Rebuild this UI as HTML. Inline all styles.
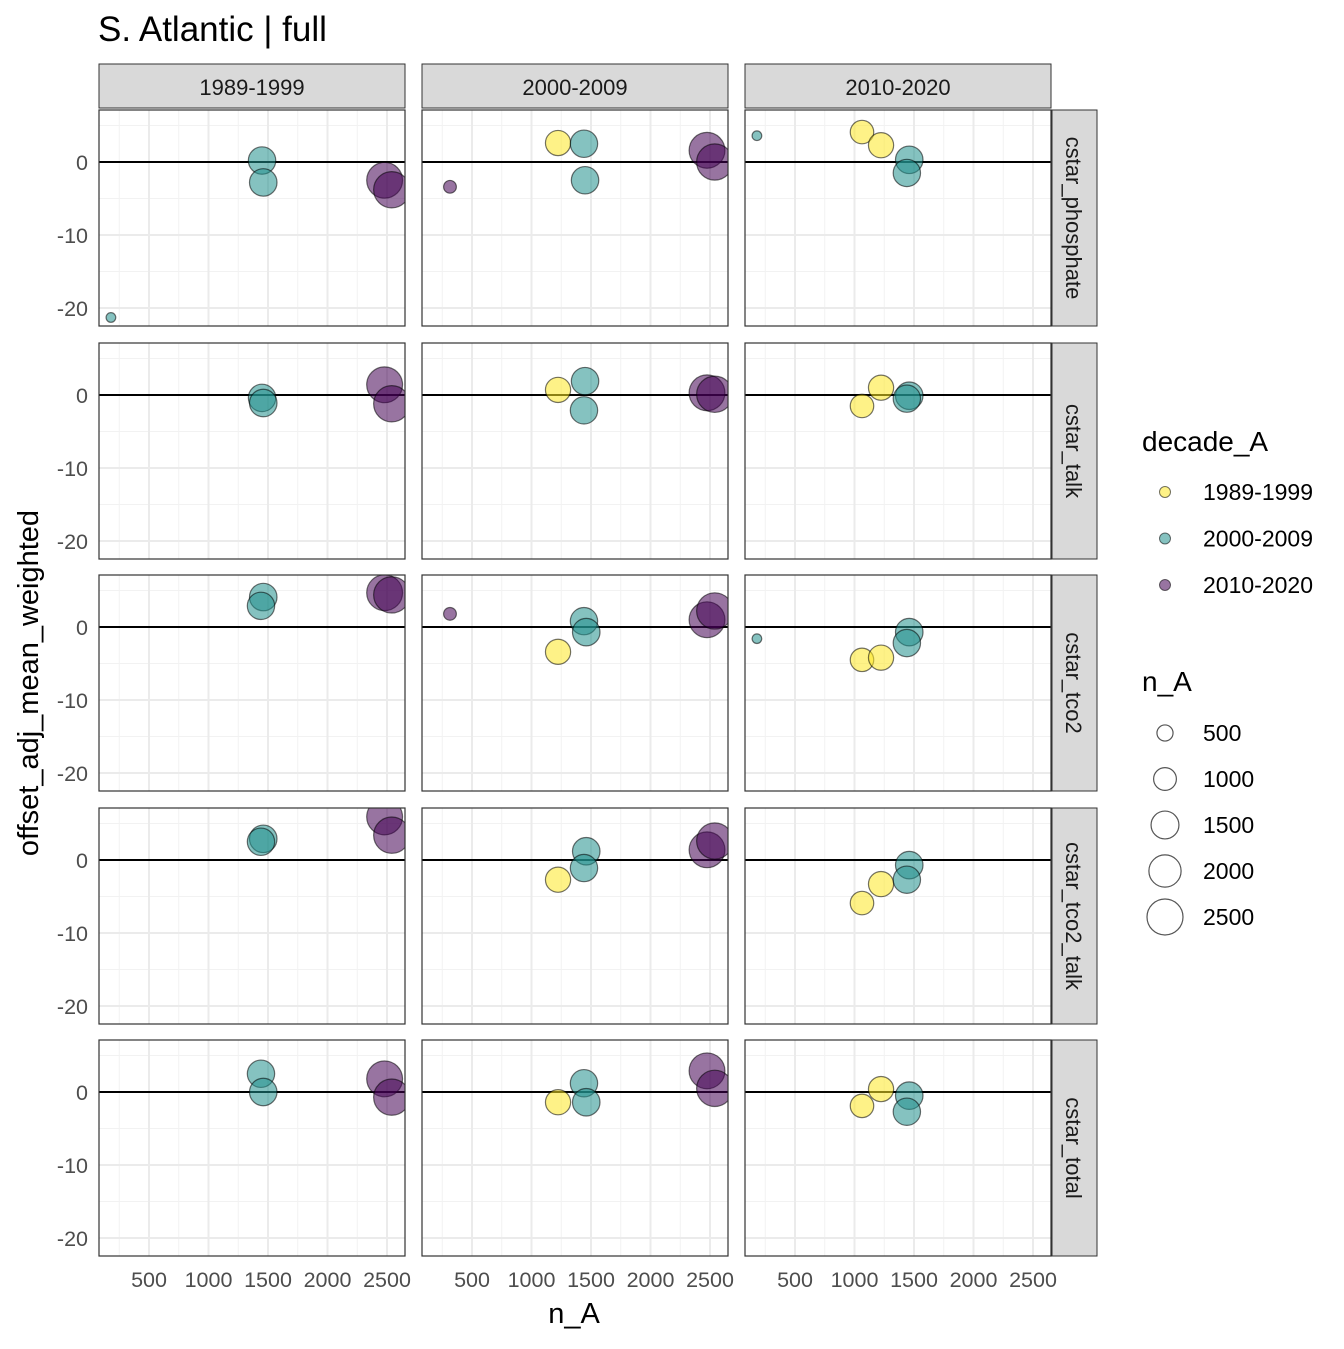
<!DOCTYPE html>
<html><head><meta charset="utf-8"><style>
body{margin:0;background:#fff;font-family:"Liberation Sans",sans-serif;}
svg text{font-family:"Liberation Sans",sans-serif;}
</style></head><body>
<svg id="chart" width="1344" height="1344" xmlns="http://www.w3.org/2000/svg">
<defs><clipPath id="pclip"><rect x="0" y="0" width="306" height="216"/></clipPath></defs>
<text x="98" y="41" font-size="35" fill="#000">S. Atlantic | full</text>
<text x="574" y="1323" font-size="29" text-anchor="middle">n_A</text>
<text transform="translate(38,683) rotate(-90)" font-size="29" text-anchor="middle">offset_adj_mean_weighted</text>
<g id="panels"></g>
<g id="legend"></g>
</svg>
<script>
const decades=["1989-1999","2000-2009","2010-2020"];
const params=["cstar_phosphate","cstar_talk","cstar_tco2","cstar_tco2_talk","cstar_total"];
const colors={"1989-1999":"#FDE725","2000-2009":"#21908C","2010-2020":"#440154"};
const xTicks=[500,1000,1500,2000,2500];
const yTicks=[0,-10,-20];
const sizeLegend=[500,1000,1500,2000,2500];
const pParam=[0,0,0,0,0, 0,0,0,0,0,0, 0,0,0,0,0,
 1,1,1,1, 1,1,1,1,1, 1,1,1,1,
 2,2,2,2, 2,2,2,2,2,2, 2,2,2,2,2,
 3,3,3,3, 3,3,3,3,3, 3,3,3,3,
 4,4,4,4, 4,4,4,4,4, 4,4,4,4];
const pPanel=[0,0,0,0,0, 1,1,1,1,1,1, 2,2,2,2,2,
 0,0,0,0, 1,1,1,1,1, 2,2,2,2,
 0,0,0,0, 1,1,1,1,1,1, 2,2,2,2,2,
 0,0,0,0, 1,1,1,1,1, 2,2,2,2,
 0,0,0,0, 1,1,1,1,1, 2,2,2,2];
const pDecade=[1,1,2,2,1, 0,1,1,2,2,2, 1,0,0,1,1,
 1,1,2,2, 0,1,1,2,2, 0,0,1,1,
 1,1,2,2, 2,0,1,1,2,2, 1,0,0,1,1,
 1,1,2,2, 0,1,1,2,2, 0,0,1,1,
 1,1,2,2, 0,1,1,2,2, 0,0,1,1];
const pN=[1450,1460,2480,2540,180, 1223,1441,1450,2475,2540,315, 180,1063,1223,1460,1440,
 1450,1460,2480,2540, 1223,1450,1441,2475,2540, 1063,1223,1460,1440,
 1460,1441,2480,2540, 315,1223,1441,1460,2475,2540, 180,1063,1223,1460,1440,
 1460,1441,2480,2540, 1223,1460,1441,2475,2540, 1063,1223,1460,1440,
 1441,1460,2480,2540, 1223,1441,1460,2475,2540, 1063,1223,1460,1440];
const pY=[0.2,-2.8,-2.5,-3.8,-21.3, 2.6,2.5,-2.5,1.6,0,-3.4, 3.6,4.1,2.3,0.3,-1.5,
 -0.4,-1.1,1.4,-1.2, 0.7,1.9,-2.1,0.3,0.1, -1.5,1.0,-0.1,-0.5,
 4.1,2.9,4.7,4.4, 1.8,-3.4,0.8,-0.7,1.0,2.2, -1.6,-4.5,-4.2,-0.7,-2.2,
 2.9,2.5,5.9,3.4, -2.7,1.2,-1.1,1.4,2.6, -5.9,-3.3,-0.7,-2.7,
 2.5,0,1.8,-0.7, -1.4,1.2,-1.4,2.9,0.5, -1.9,0.4,-0.5,-2.7];

const NS="http://www.w3.org/2000/svg";
function el(tag,attrs,parent){const e=document.createElementNS(NS,tag);for(const k in attrs)e.setAttribute(k,attrs[k]);parent.appendChild(e);return e;}
const colX=[99,422,745], rowY=[110,343,575,808,1040], PW=306, PH=216;
const xs=v=>-9.5+v*0.119;
const ys=v=>52-v*7.3;
const rs=n=>Math.sqrt(n)*0.36;
const G=document.getElementById('panels');
for(let c=0;c<3;c++){
  const s=el('g',{},G);
  
  
  el('rect',{x:colX[c],y:64,width:PW,height:44,fill:'#D9D9D9',stroke:'#333','stroke-width':1},s);
  const t=el('text',{x:colX[c]+PW/2,y:95,'font-size':22,'text-anchor':'middle',fill:'#1A1A1A'},s);t.textContent=decades[c];
  xTicks.forEach(v=>{const t2=el('text',{x:colX[c]+xs(v),y:1287,'font-size':21.5,'text-anchor':'middle',fill:'#4D4D4D'},G);t2.textContent=v;
    
    });
}
for(let r=0;r<5;r++){
  const s=el('g',{},G);
  
  
  el('rect',{x:1052,y:rowY[r],width:45,height:PH,fill:'#D9D9D9',stroke:'#333','stroke-width':1},s);
  const t=el('text',{transform:`translate(1066,${rowY[r]+PH/2}) rotate(90)`,'font-size':22,'text-anchor':'middle',fill:'#1A1A1A'},s);t.textContent=params[r];
  yTicks.forEach(v=>{const t2=el('text',{x:88,y:rowY[r]+ys(v)+8,'font-size':21.5,'text-anchor':'end',fill:'#4D4D4D'},G);t2.textContent=v;
    
    });
  for(let c=0;c<3;c++){
    const g=el('g',{transform:`translate(${colX[c]},${rowY[r]})`},G);
    
    
    el('rect',{x:0,y:0,width:PW,height:PH,fill:'#fff'},g);
    const minorX=[250,750,1250,1750,2250];
    minorX.forEach(v=>el('line',{x1:xs(v),x2:xs(v),y1:0,y2:PH,stroke:'#F2F2F2','stroke-width':1},g));
    [5,-5,-15].forEach(v=>el('line',{x1:0,x2:PW,y1:ys(v),y2:ys(v),stroke:'#F2F2F2','stroke-width':1},g));
    xTicks.forEach(v=>el('line',{x1:xs(v),x2:xs(v),y1:0,y2:PH,stroke:'#EBEBEB','stroke-width':2},g));
    yTicks.forEach(v=>el('line',{x1:0,x2:PW,y1:ys(v),y2:ys(v),stroke:'#EBEBEB','stroke-width':2},g));
    el('line',{x1:0,x2:PW,y1:ys(0),y2:ys(0),stroke:'#000','stroke-width':2},g);
    const pts=el('g',{'clip-path':'url(#pclip)'},g);
    for(let i=0;i<pN.length;i++){
      if(pParam[i]!==r||pPanel[i]!==c)continue;
      const d=decades[pDecade[i]];
      const ci=el('circle',{cx:xs(pN[i]),cy:ys(pY[i]),r:rs(pN[i]),fill:colors[d],'fill-opacity':0.55,stroke:'#000','stroke-opacity':0.55,'stroke-width':1.2},pts);
      
      
    }
    el('rect',{x:0,y:0,width:PW,height:PH,fill:'none',stroke:'#333','stroke-width':1.2},g);
  }
}
const L=document.getElementById('legend');
let t=el('text',{x:1142,y:451,'font-size':28},L);t.textContent='decade_A';
decades.forEach((d,i)=>{const y=492+i*46.5;
  const ci=el('circle',{cx:1165,cy:y,r:5.5,fill:colors[d],'fill-opacity':0.55,stroke:'#000','stroke-opacity':0.55},L);
  
  
  const tt=el('text',{x:1203,y:y+8,'font-size':23},L);tt.textContent=d;});
t=el('text',{x:1142,y:691,'font-size':28},L);t.textContent='n_A';
sizeLegend.forEach((n,i)=>{const y=733+i*46;
  const ci=el('circle',{cx:1165,cy:y,r:rs(n),fill:'none',stroke:'#555','stroke-width':1.2},L);
  
  
  const tt=el('text',{x:1203,y:y+8,'font-size':23},L);tt.textContent=n;});
</script>
</body></html>
